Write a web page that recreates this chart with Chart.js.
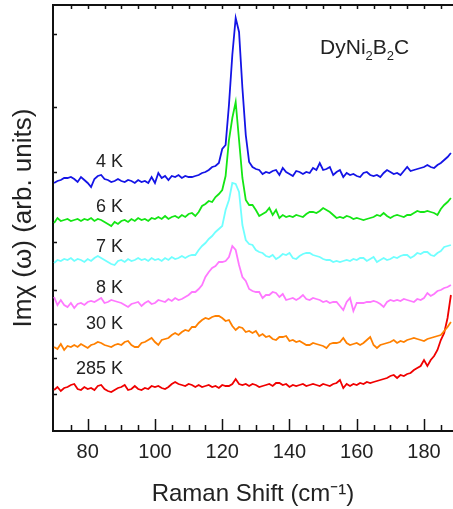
<!DOCTYPE html>
<html>
<head>
<meta charset="utf-8">
<style>
  html, body { margin: 0; padding: 0; background: #fff; }
</style>
<script src="https://cdn.jsdelivr.net/npm/chart.js@4.4.0/dist/chart.umd.min.js"></script>
</head>
<body>
<canvas id="raman" width="453" height="509"></canvas>
<script>
// Raman shift (cm-1)
const shift = [70,71,72,73,74,75,76,77,78,79,80,81,82,83,84,85,86,87,88,89,
  90,91,92,93,94,95,96,97,98,99,100,101,102,103,104,105,106,107,108,109,
  110,111,112,113,114,115,116,117,118,119,120,121,122,123,124,125,126,127,128,129,
  130,131,132,133,134,135,136,137,138,139,140,141,142,143,144,145,146,147,148,149,
  150,151,152,153,154,155,156,157,158,159,160,161,162,163,164,165,166,167,168,169,
  170,171,172,173,174,175,176,177,178,179,180,181,182,183,184,185,186,187,188];

// offset spectra, arb. units
const t4K = [248,250,251,253,253,254,252,249,254,251, 248,244,252,255,256,252,251,249,250,252,
  250,249,251,250,248,251,249,250,248,254, 248,258,253,255,251,255,254,256,253,255,
  254,254,255,256,258,259,261,264,265,268, 282,286,326,376,413,399,343,296,269,264,
  262,261,257,259,258,260,261,256,263,259, 257,255,260,259,257,259,258,263,261,268,
  261,262,264,256,259,261,254,258,256,257, 255,254,258,259,256,255,256,254,258,261,
  259,257,258,256,260,264,260,261,262,263, 264,266,264,263,266,268,271,274,278];
const t6K = [208,213,210,211,212,210,211,212,210,212, 211,213,210,212,211,209,207,205,209,207,
  210,211,209,212,210,213,211,212,210,213, 212,214,212,215,212,214,215,213,216,214,
  217,218,215,219,225,227,230,229,234,237, 241,255,291,313,329,291,253,231,226,226,
  221,215,217,219,223,216,221,213,216,214, 215,214,216,215,214,217,219,219,218,220,
  223,221,219,216,213,214,213,215,214,212, 213,212,211,212,213,214,216,215,218,215,
  213,215,216,215,214,216,216,218,220,219, 219,220,219,218,216,222,226,229,233];
const t7K = [168,171,170,172,171,173,170,172,171,169, 172,170,173,175,173,171,169,167,166,170,
  171,169,172,170,171,173,171,172,170,173, 171,172,170,173,171,174,172,173,175,173,
  175,176,176,181,185,188,192,195,199,202, 205,221,231,248,247,239,206,191,187,186,
  181,179,178,175,174,176,172,174,177,176, 178,173,172,175,177,178,178,176,175,174,
  172,171,171,169,170,169,170,171,170,172, 171,173,173,170,172,174,169,171,173,171,
  172,174,173,175,176,176,173,175,178,177, 179,179,176,175,178,180,184,185,186];
const t8K = [134,126,131,126,124,128,123,127,128,126, 129,130,129,131,133,128,129,131,130,129,
  128,126,124,127,128,129,125,128,130,127, 128,131,130,129,132,130,133,131,132,134,
  136,139,139,142,146,154,159,163,165,169, 169,170,174,185,181,166,154,150,142,140,
  139,139,133,136,136,139,138,134,137,131, 132,133,131,133,136,132,131,133,132,131,
  129,130,128,129,129,125,121,129,133,120, 128,128,128,129,129,130,129,127,124,129,
  131,130,131,130,132,131,130,129,132,131, 133,138,135,137,140,141,143,144,146];
const t30K = [84,82,87,81,85,84,86,84,87,85, 83,86,87,89,88,86,85,84,86,87,
  86,89,90,86,84,84,88,89,91,93, 89,86,91,92,93,96,98,96,99,101,
  100,104,104,108,111,113,112,114,115,115, 113,110,111,105,101,104,103,99,100,98,
  100,95,97,94,95,92,91,94,94,95, 90,91,89,90,88,86,86,88,87,86,
  85,83,87,88,88,89,93,88,86,87, 88,86,88,91,94,86,83,86,87,88,
  89,91,88,90,89,91,92,93,92,91, 90,92,93,94,95,96,100,104,109];
const t285K = [41,44,40,43,44,46,47,42,41,44, 42,43,41,45,46,42,40,39,41,43,
  44,46,41,42,45,42,41,43,42,45, 44,45,43,42,44,47,49,47,46,45,
  47,46,44,46,44,45,46,44,45,43, 46,45,45,47,52,47,46,47,45,47,
  46,44,45,46,47,45,48,48,46,47, 44,46,45,46,47,45,46,47,46,45,
  47,46,45,47,48,51,43,47,45,47, 46,48,47,49,48,49,50,51,52,53,
  55,56,53,56,55,57,58,61,63,65, 71,65,71,75,81,91,98,113,136];

const temps = ["4 K", "6 K", "7 K", "8 K", "30 K", "285 K"];
const spectra = [t4K, t6K, t7K, t8K, t30K, t285K];
const colors = ["#1414e6", "#14e614", "#70ffff", "#ff78ff", "#ff8000", "#f00000"];

const xTicks = [80, 100, 120, 140, 160, 180];
const yTicks = [37, 73, 107, 141, 189, 259, 324, 397];

// where the temperature labels sit (right edge, data units)
const labelX = 90.5;
const labelY = [269, 224, 184, 143, 107, 62];
const sample = [["DyNi", false], ["2", true], ["B", false], ["2", true], ["C", false]];

Chart.defaults.font.family = "'Liberation Sans', Arial, sans-serif";
Chart.defaults.color = "#222";

const datasets = spectra.map((s, i) => ({
  label: temps[i],
  data: s.map((v, j) => ({ x: shift[j], y: v })),
  borderColor: colors[i],
  borderWidth: 1.8,
  pointRadius: 0,
  fill: false,
  tension: 0
}));

const decor = {
  id: "decor",
  afterDatasetsDraw(chart) {
    const ctx = chart.ctx;
    const a = chart.chartArea;
    const x = chart.scales.x;
    const y = chart.scales.y;
    ctx.save();
    ctx.strokeStyle = "#111";
    ctx.lineWidth = 2;
    ctx.beginPath();
    ctx.moveTo(a.left - 1, a.top);
    ctx.lineTo(a.right, a.top);
    ctx.stroke();

    ctx.lineWidth = 1.5;
    ctx.beginPath();
    for (let v = 75; v <= 185; v += 5) {
      const px = Math.round(x.getPixelForValue(v)) + 0.5;
      const len = v % 20 === 0 ? 12 : 6;
      ctx.moveTo(px, a.bottom);
      ctx.lineTo(px, a.bottom - len);
      ctx.moveTo(px, a.top);
      ctx.lineTo(px, a.top + 4);
    }
    yTicks.forEach(v => {
      const py = Math.round(y.getPixelForValue(v)) + 0.5;
      ctx.moveTo(a.left, py);
      ctx.lineTo(a.left + 4, py);
    });
    ctx.stroke();

    ctx.fillStyle = "#222";
    ctx.font = "18px 'Liberation Sans', Arial, sans-serif";
    ctx.textAlign = "right";
    ctx.textBaseline = "middle";
    temps.forEach((t, i) => {
      ctx.fillText(t, x.getPixelForValue(labelX), y.getPixelForValue(labelY[i]));
    });

    ctx.textAlign = "left";
    ctx.textBaseline = "alphabetic";
    let cx = x.getPixelForValue(149.1);
    const cy = y.getPixelForValue(377);
    sample.forEach(([txt, sub]) => {
      ctx.font = (sub ? "13px" : "21px") + " 'Liberation Sans', Arial, sans-serif";
      ctx.fillText(txt, cx, sub ? cy + 6 : cy);
      cx += ctx.measureText(txt).width;
    });
    ctx.restore();
  }
};

new Chart(document.getElementById("raman"), {
  type: "line",
  data: { datasets },
  options: {
    responsive: false,
    animation: false,
    devicePixelRatio: 1,
    layout: { padding: { top: 5, right: 0, bottom: 0, left: 0 } },
    plugins: { legend: { display: false }, tooltip: { enabled: false } },
    scales: {
      x: {
        type: "linear",
        min: 69.68,
        max: 188.62,
        afterFit: s => { s.height = 78; },
        afterBuildTicks: s => { s.ticks = xTicks.map(v => ({ value: v })); },
        grid: { display: false, drawTicks: false },
        border: { display: true, color: "#111", width: 2 },
        ticks: { font: { size: 20 }, padding: 9, maxRotation: 0, autoSkip: false },
        title: {
          display: true,
          text: "Raman Shift (cm\u207B\u00B9)",
          font: { size: 24 },
          padding: { top: 5, bottom: 0 }
        }
      },
      y: {
        min: 0,
        max: 426,
        afterFit: s => { s.width = 53; },
        grid: { display: false, drawTicks: false },
        border: { display: true, color: "#111", width: 2 },
        ticks: { display: false },
        title: {
          display: true,
          text: "Im\u03C7 (\u03C9) (arb. units)",
          font: { size: 26 },
          padding: { top: 8, bottom: 0 }
        }
      }
    }
  },
  plugins: [decor]
});
</script>
</body>
</html>
